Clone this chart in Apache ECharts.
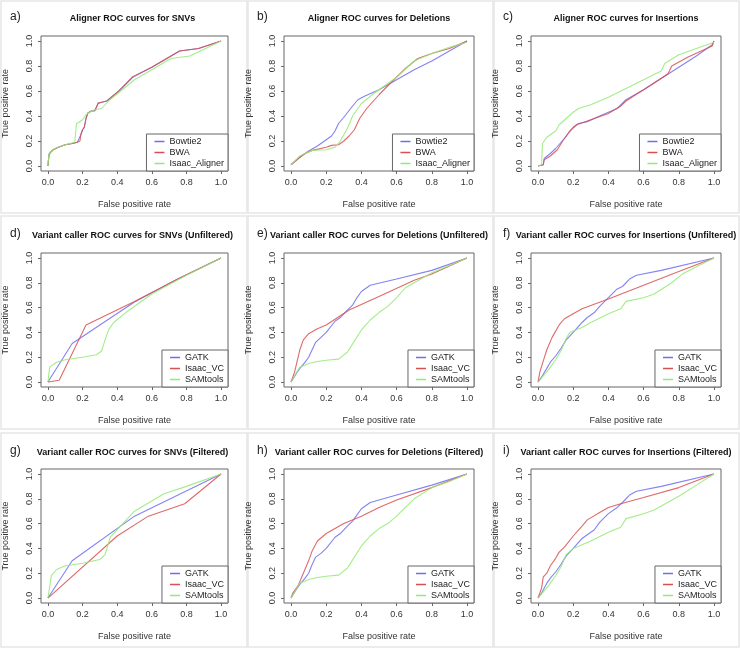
<!DOCTYPE html>
<html><head><meta charset="utf-8">
<script src="https://cdn.jsdelivr.net/npm/echarts@6/dist/echarts.min.js"></script>
<style>html,body{margin:0;padding:0;background:#fff}#c{width:740px;height:649px}</style>
</head><body><div id="c"></div>
<script>
// ---- data (false positive rate, true positive rate) ----
const tickValues = [0, 0.2, 0.4, 0.6, 0.8, 1.0];
const alignerNames = ['Bowtie2', 'BWA', 'Isaac_Aligner'];
const callerNames = ['GATK', 'Isaac_VC', 'SAMtools'];
const panelLabels = ['a)', 'b)', 'c)', 'd)', 'e)', 'f)', 'g)', 'h)', 'i)'];
const panelTitles = [
  'Aligner ROC curves for SNVs', 'Aligner ROC curves for Deletions', 'Aligner ROC curves for Insertions',
  'Variant caller ROC curves for SNVs (Unfiltered)', 'Variant caller ROC curves for Deletions (Unfiltered)', 'Variant caller ROC curves for Insertions (Unfiltered)',
  'Variant caller ROC curves for SNVs (Filtered)', 'Variant caller ROC curves for Deletions (Filtered)', 'Variant caller ROC curves for Insertions (Filtered)'
];

const a_Bowtie2 = [[0,0],[0.006,0.09],[0.015,0.11],[0.03,0.13],[0.06,0.15],[0.1,0.17],[0.14,0.18],[0.17,0.19],[0.18,0.2],[0.19,0.25],[0.2,0.29],[0.21,0.31],[0.22,0.38],[0.23,0.42],[0.25,0.44],[0.27,0.445],[0.28,0.47],[0.29,0.5],[0.31,0.51],[0.34,0.52],[0.41,0.6],[0.49,0.71],[0.6,0.79],[0.76,0.92],[0.87,0.94],[1,1]];
const a_BWA = [[0,0],[0.006,0.09],[0.015,0.11],[0.03,0.13],[0.06,0.15],[0.1,0.17],[0.14,0.18],[0.17,0.19],[0.185,0.2],[0.19,0.25],[0.2,0.29],[0.21,0.31],[0.22,0.38],[0.23,0.425],[0.25,0.44],[0.27,0.44],[0.28,0.47],[0.29,0.505],[0.31,0.51],[0.34,0.52],[0.41,0.6],[0.49,0.715],[0.6,0.79],[0.76,0.92],[0.87,0.94],[1,1]];
const a_Isaac = [[0,0],[0.006,0.1],[0.02,0.12],[0.04,0.14],[0.1,0.17],[0.155,0.19],[0.16,0.2],[0.165,0.34],[0.18,0.35],[0.2,0.37],[0.22,0.41],[0.24,0.43],[0.27,0.45],[0.31,0.46],[0.33,0.49],[0.35,0.52],[0.42,0.6],[0.5,0.69],[0.6,0.77],[0.71,0.86],[0.82,0.88],[1,1]];

const b_Bowtie2 = [[0,0.01],[0.05,0.07],[0.1,0.12],[0.15,0.16],[0.2,0.21],[0.23,0.24],[0.25,0.28],[0.27,0.34],[0.3,0.39],[0.35,0.48],[0.38,0.53],[0.42,0.56],[0.5,0.61],[0.6,0.69],[0.7,0.77],[0.8,0.84],[0.9,0.92],[0.95,0.96],[1,1]];
const b_BWA = [[0,0.01],[0.05,0.07],[0.08,0.1],[0.12,0.125],[0.2,0.15],[0.23,0.165],[0.27,0.17],[0.3,0.2],[0.33,0.24],[0.36,0.29],[0.39,0.38],[0.43,0.46],[0.5,0.57],[0.57,0.67],[0.65,0.78],[0.72,0.86],[0.8,0.9],[0.9,0.94],[1,1]];
const b_Isaac = [[0,0.01],[0.05,0.08],[0.08,0.1],[0.12,0.125],[0.2,0.13],[0.25,0.15],[0.28,0.2],[0.32,0.3],[0.35,0.4],[0.4,0.5],[0.47,0.58],[0.55,0.66],[0.6,0.71],[0.7,0.84],[0.8,0.9],[0.9,0.95],[1,0.99]];

const c_Bowtie2 = [[0,0],[0.03,0.01],[0.035,0.06],[0.07,0.1],[0.1,0.14],[0.15,0.22],[0.2,0.31],[0.23,0.34],[0.28,0.355],[0.35,0.4],[0.45,0.46],[0.5,0.53],[0.6,0.61],[0.7,0.7],[0.8,0.79],[0.9,0.88],[0.99,0.97],[1,1]];
const c_BWA = [[0,0],[0.03,0.01],[0.035,0.05],[0.07,0.08],[0.11,0.13],[0.14,0.2],[0.18,0.28],[0.22,0.33],[0.3,0.37],[0.4,0.42],[0.47,0.48],[0.5,0.52],[0.6,0.61],[0.72,0.72],[0.74,0.74],[0.76,0.8],[0.85,0.87],[0.99,0.96],[1,1]];
const c_Isaac = [[0,0],[0.02,0.01],[0.025,0.18],[0.05,0.23],[0.1,0.28],[0.12,0.33],[0.2,0.43],[0.23,0.46],[0.3,0.49],[0.4,0.55],[0.5,0.62],[0.6,0.69],[0.7,0.76],[0.72,0.82],[0.8,0.89],[0.9,0.94],[1,0.99]];

const d_GATK = [[0,0],[0.14,0.31],[0.3,0.46],[0.5,0.645],[0.75,0.83],[1,1]];
const d_IsaacVC = [[0,0],[0.065,0.015],[0.22,0.46],[0.5,0.65],[0.75,0.83],[1,1]];
const d_SAMtools = [[0,0],[0.01,0.12],[0.05,0.16],[0.1,0.18],[0.2,0.2],[0.28,0.22],[0.31,0.25],[0.33,0.34],[0.35,0.42],[0.38,0.48],[0.45,0.56],[0.6,0.71],[0.8,0.86],[1,1]];

const e_GATK = [[0,0],[0.03,0.07],[0.05,0.11],[0.08,0.16],[0.1,0.2],[0.12,0.26],[0.14,0.32],[0.17,0.36],[0.2,0.4],[0.25,0.49],[0.28,0.52],[0.32,0.58],[0.35,0.62],[0.37,0.67],[0.4,0.73],[0.45,0.78],[0.6,0.83],[0.8,0.9],[1,1]];
const e_IsaacVC = [[0,0],[0.02,0.08],[0.05,0.26],[0.07,0.34],[0.1,0.39],[0.15,0.43],[0.2,0.46],[0.33,0.58],[0.5,0.69],[0.7,0.82],[0.8,0.87],[1,1]];
const e_SAMtools = [[0,0],[0.05,0.12],[0.1,0.15],[0.15,0.165],[0.2,0.175],[0.27,0.185],[0.32,0.24],[0.36,0.33],[0.4,0.42],[0.45,0.5],[0.5,0.56],[0.55,0.61],[0.6,0.68],[0.65,0.76],[0.7,0.8],[0.8,0.88],[0.9,0.94],[1,1]];

const f_GATK = [[0,0],[0.02,0.04],[0.05,0.11],[0.07,0.16],[0.1,0.21],[0.13,0.27],[0.16,0.34],[0.2,0.4],[0.25,0.48],[0.28,0.52],[0.32,0.56],[0.35,0.61],[0.4,0.68],[0.45,0.75],[0.48,0.77],[0.52,0.83],[0.56,0.86],[0.7,0.9],[1,1]];
const f_IsaacVC = [[0,0],[0.01,0.08],[0.03,0.17],[0.05,0.26],[0.08,0.36],[0.12,0.46],[0.15,0.51],[0.2,0.55],[0.25,0.59],[0.4,0.67],[0.6,0.78],[0.8,0.89],[1,1]];
const f_SAMtools = [[0,0],[0.03,0.05],[0.06,0.1],[0.1,0.18],[0.13,0.25],[0.16,0.35],[0.18,0.4],[0.25,0.44],[0.3,0.48],[0.4,0.55],[0.47,0.59],[0.5,0.65],[0.6,0.68],[0.66,0.71],[0.75,0.79],[0.82,0.87],[0.9,0.93],[1,1]];

const g_GATK = [[0,0],[0.14,0.3],[0.5,0.66],[1,1]];
const g_IsaacVC = [[0,0],[0.4,0.5],[0.58,0.66],[0.79,0.76],[1,1]];
const g_SAMtools = [[0,0],[0.02,0.18],[0.05,0.23],[0.1,0.26],[0.2,0.28],[0.3,0.31],[0.33,0.35],[0.36,0.49],[0.5,0.7],[0.67,0.84],[0.8,0.9],[1,1]];

const h_GATK = [[0,0],[0.03,0.07],[0.05,0.11],[0.08,0.16],[0.1,0.2],[0.12,0.27],[0.14,0.33],[0.17,0.36],[0.2,0.4],[0.25,0.49],[0.28,0.52],[0.32,0.58],[0.35,0.62],[0.37,0.66],[0.4,0.72],[0.45,0.77],[0.6,0.83],[0.8,0.91],[1,1]];
const h_IsaacVC = [[0,0],[0.01,0.04],[0.04,0.1],[0.07,0.2],[0.1,0.3],[0.12,0.38],[0.15,0.46],[0.2,0.52],[0.25,0.56],[0.3,0.6],[0.4,0.66],[0.5,0.73],[0.6,0.79],[0.8,0.89],[1,1]];
const h_SAMtools = [[0,0],[0.05,0.12],[0.1,0.15],[0.15,0.165],[0.2,0.175],[0.27,0.185],[0.32,0.24],[0.36,0.33],[0.4,0.42],[0.45,0.5],[0.5,0.56],[0.55,0.6],[0.6,0.66],[0.65,0.73],[0.7,0.8],[0.8,0.89],[0.9,0.94],[1,1]];

const i_GATK = [[0,0],[0.02,0.04],[0.05,0.12],[0.07,0.16],[0.1,0.21],[0.13,0.27],[0.16,0.34],[0.2,0.4],[0.25,0.48],[0.28,0.51],[0.32,0.55],[0.35,0.61],[0.4,0.68],[0.45,0.73],[0.48,0.77],[0.52,0.83],[0.56,0.86],[0.7,0.9],[1,1]];
const i_IsaacVC = [[0,0],[0.02,0.08],[0.03,0.17],[0.05,0.2],[0.07,0.26],[0.1,0.32],[0.12,0.37],[0.15,0.41],[0.2,0.5],[0.25,0.58],[0.28,0.63],[0.35,0.69],[0.4,0.73],[0.47,0.76],[0.6,0.81],[0.8,0.89],[1,1]];
const i_SAMtools = [[0,0],[0.03,0.05],[0.06,0.1],[0.1,0.18],[0.13,0.25],[0.16,0.35],[0.2,0.4],[0.3,0.46],[0.4,0.53],[0.47,0.57],[0.5,0.64],[0.6,0.68],[0.66,0.71],[0.8,0.82],[0.9,0.91],[1,1]];

const panelSeries = [
  [a_Bowtie2, a_BWA, a_Isaac], [b_Bowtie2, b_BWA, b_Isaac], [c_Bowtie2, c_BWA, c_Isaac],
  [d_GATK, d_IsaacVC, d_SAMtools], [e_GATK, e_IsaacVC, e_SAMtools], [f_GATK, f_IsaacVC, f_SAMtools],
  [g_GATK, g_IsaacVC, g_SAMtools], [h_GATK, h_IsaacVC, h_SAMtools], [i_GATK, i_IsaacVC, i_SAMtools]
];

// ---- layout / style ----
const colors = ['#6d6df0', '#d85050', '#93ea74'];
const colLeft = [37, 284, 531], colW = [191, 190, 190];
const rowTop = [36, 253, 469], rowH = [135, 134, 134];
const labelX = [10, 257, 503];
const titleY = [19, 236, 453];
const FONT = 'Liberation Sans, Arial, sans-serif';

const grids = [], xAxes = [], yAxes = [], series = [], legends = [], graphics = [];
// panel frames
const frameX = [[1, 247], [248, 493], [494, 739]];
const frameY = [[1, 213], [216, 429], [433, 647]];
for (let r = 0; r < 3; r++) for (let c = 0; c < 3; c++) {
  graphics.push({type: 'rect', shape: {x: frameX[c][0], y: frameY[r][0], width: frameX[c][1] - frameX[c][0], height: frameY[r][1] - frameY[r][0]},
    style: {fill: 'none', stroke: '#e6e6e6', lineWidth: 1.5}, z: -1});
}
for (let p = 0; p < 9; p++) {
  const r = Math.floor(p / 3), c = p % 3;
  const L = colLeft[c], T = rowTop[r], W = colW[c], H = rowH[r];
  grids.push({left: L, top: T, width: W, height: H, show: true, borderColor: '#666', borderWidth: 1, backgroundColor: 'transparent', containLabel: false});
  const axisCommon = {
    gridIndex: p, type: 'value', min: -0.04, max: 1.04,
    splitLine: {show: false},
    axisLine: {show: false, onZero: false},
    axisTick: {show: true, customValues: tickValues, length: 3, lineStyle: {color: '#666'}},
    nameLocation: 'middle',
    nameTextStyle: {fontSize: 9, color: '#333', fontFamily: FONT}
  };
  xAxes.push(Object.assign({}, axisCommon, {
    position: 'bottom', name: 'False positive rate', nameGap: 29,
    axisLabel: {customValues: tickValues, margin: 7, fontSize: 9, color: '#333', fontFamily: FONT, formatter: v => v.toFixed(1)}
  }));
  yAxes.push(Object.assign({}, axisCommon, {
    position: 'left', name: 'True positive rate', nameGap: 31,
    axisLabel: {customValues: tickValues, rotate: 90, margin: 7, fontSize: 9, color: '#333', fontFamily: FONT, formatter: v => v.toFixed(1)}
  }));
  const names = r === 0 ? alignerNames : callerNames;
  panelSeries[p].forEach((d, k) => {
    series.push({
      type: 'line', name: names[k], xAxisIndex: p, yAxisIndex: p, data: d,
      showSymbol: false, symbol: 'none', smooth: false, animation: false,
      lineStyle: {color: colors[k], width: 1.1, opacity: 0.85}, itemStyle: {color: colors[k]}
    });
  });
  legends.push({
    data: names.map((n, k) => ({name: n, itemStyle: {color: colors[k]}})),
    orient: 'vertical', right: 740 - (L + W), bottom: 649 - (T + H),
    icon: 'rect', itemWidth: 10, itemHeight: 1.5, itemGap: 0,
    padding: [2, 4, 2, 8], borderColor: '#666', borderWidth: 1, backgroundColor: '#fff',
    textStyle: {fontSize: 9, color: '#222', fontFamily: FONT, lineHeight: 11},
    selectedMode: false, z: 10
  });
  graphics.push({type: 'text', left: labelX[c], top: titleY[r] - 8, style: {text: panelLabels[p], fontSize: 12, fontFamily: FONT, fill: '#222'}});
  graphics.push({type: 'text', x: L + W / 2, y: titleY[r], style: {text: panelTitles[p], fontSize: 9, fontWeight: 'bold', fontFamily: FONT, fill: '#111', textAlign: 'center', textVerticalAlign: 'middle'}});
}

const chart = echarts.init(document.getElementById('c'), null, {renderer: 'canvas'});
chart.setOption({
  backgroundColor: '#fff', animation: false,
  grid: grids, xAxis: xAxes, yAxis: yAxes, series: series, legend: legends, graphic: graphics
});
</script></body></html>
